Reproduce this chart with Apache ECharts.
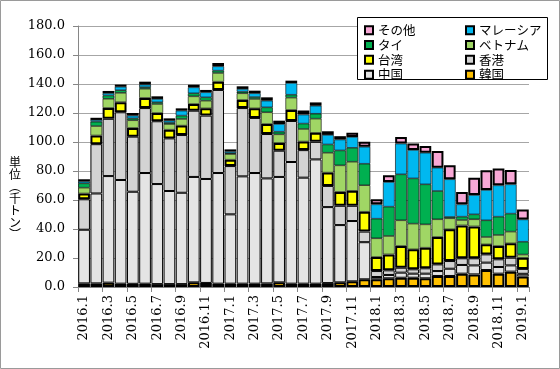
<!DOCTYPE html>
<html>
<head>
<meta charset="utf-8">
<script src="https://cdn.jsdelivr.net/npm/echarts@6/dist/echarts.min.js"></script>
<style>html,body{margin:0;padding:0;background:#fff}#c{width:560px;height:369px}</style>
</head>
<body>
<div id="c"></div>
<script>
var categories = ['2016.1','2016.2','2016.3','2016.4','2016.5','2016.6','2016.7','2016.8','2016.9','2016.10','2016.11','2016.12',
 '2017.1','2017.2','2017.3','2017.4','2017.5','2017.6','2017.7','2017.8','2017.9','2017.10','2017.11','2017.12',
 '2018.1','2018.2','2018.3','2018.4','2018.5','2018.6','2018.7','2018.8','2018.9','2018.10','2018.11','2018.12','2019.1'];
var korea    = [2.5,2.5,3,2.3,2.2,2.3,2,2,2,3.2,2.8,2.3,2.3,2.3,2.3,2.5,3.2,2.3,2.3,2.3,2.7,3.2,3.9,5.3,5.3,6,6.4,6.4,6,7.6,7.6,9.2,8.7,11.7,9.2,10.6,7.3];
var china    = [37,62,73.5,71.5,63.5,76.3,69,64.2,63,72.7,71.7,76.3,47.8,74,76.3,72.4,72.7,83.9,73.1,85.7,52.4,39.5,41.6,25.6,1.6,2.3,3.5,2.8,3.2,3.4,5,6,6.2,5.1,4.6,4.3,1.8];
var hongkong = [21,34,39.5,46.7,38,44.8,43.3,36.3,39.8,45.7,43.7,57.3,33.3,47.1,38,30.6,18.1,28.3,19,12.1,14.6,13.3,10.5,7.3,4.1,3.2,3.4,3,3.7,4.6,5.3,4.6,4.9,5.7,5.3,5.3,3.4];
var taiwan   = [4,6,7.5,7,6,7,5.7,6,6.5,4.6,5,5.7,4.4,5.6,6.6,6.9,5.3,7.6,5.9,6.2,9.2,9.6,10.3,13.7,9.7,11,15,13.8,14.2,18.9,21.9,22.7,22,6.9,9.2,9.9,7.6];
var vietnam  = [4,6.5,6.3,6.4,5.3,6.3,6.2,3.9,4.6,5.3,5.3,6,3.9,4.6,6.5,8.1,6,8.5,8.7,9.8,13.7,18.3,20.1,18.3,12.9,12.7,17.7,17.7,16.1,12.2,7.6,3.7,4.9,5.1,7.6,8.1,2.3];
var thai     = [3,3,2.3,1.8,1.3,1.1,1.2,0.8,2.3,2.1,2.3,1.6,0.6,1.1,1.3,3.4,1.8,2,3.7,3.4,5.7,10.3,9.6,14.8,13.5,20.2,31.7,31.2,27.6,19.5,0.9,2.3,3.4,11.5,12.6,12.4,8.8];
var malaysia = [1.3,1.2,1.6,2.4,1.9,1.8,2.3,1.5,3.4,4.1,3.5,3,1.2,1.9,2.6,4.6,5.3,8.1,6.2,5.5,6.6,7.5,7.5,11.7,9.9,17,21.2,19.6,21.8,16.1,26,8.5,13.3,20.9,21.6,20.2,15.4];
var others   = [1.5,1.5,1.5,1.5,1.8,2,1.8,1.6,1.6,1.8,1.6,2.3,1.4,1.8,1.8,2.3,2.3,1.6,2.9,2.3,2.5,2.3,2.8,3.4,3.5,4.6,4.5,4.4,4.6,11.5,9.6,8.5,12,13.6,11.7,9.9,6.9];
var yTicks = [0,20,40,60,80,100,120,140,160,180];

var seriesDefs = [
  {name:'韓国', data:korea, color:'#ffc000', bw:2},
  {name:'中国', data:china, color:'#e4e4e4', bw:1},
  {name:'香港', data:hongkong, color:'#d3d3d3', bw:1},
  {name:'台湾', data:taiwan, color:'#ffff00', bw:2},
  {name:'ベトナム', data:vietnam, color:'#a0d665', bw:0.6},
  {name:'タイ', data:thai, color:'#00b050', bw:0.6},
  {name:'マレーシア', data:malaysia, color:'#00b8f0', bw:0.6},
  {name:'その他', data:others, color:'#f8a8d6', bw:2}
];
var serifFont = '"DejaVu Serif", "Liberation Serif", serif';
var jpFont = '"Noto Sans CJK JP", sans-serif';

var legendText = {fontFamily:jpFont, fontSize:12.5, color:'#000', lineHeight:12};
var chart = echarts.init(document.getElementById('c'), null, {renderer:'canvas'});
chart.setOption({
  animation:false,
  backgroundColor:'#ffffff',
  grid:{left:78, right:31, top:26, bottom:82, containLabel:false},
  xAxis:{
    type:'category', data:categories, boundaryGap:true,
    axisLine:{lineStyle:{color:'#868686', width:1}},
    axisTick:{show:true, interval:1, length:5, lineStyle:{color:'#868686'}},
    axisLabel:{interval:1, rotate:90, margin:8, color:'#000', fontFamily:serifFont, fontSize:13}
  },
  yAxis:{
    type:'value', min:0, max:180, interval:20,
    axisLine:{show:true, lineStyle:{color:'#868686', width:1}},
    axisTick:{show:true, length:5, inside:false, lineStyle:{color:'#868686'}},
    splitLine:{show:true, lineStyle:{color:'#a6a6a6', width:1}},
    axisLabel:{color:'#000', fontFamily:serifFont, fontSize:13, margin:13,
      formatter:function(v){return v.toFixed(1);}}
  },
  legend:[
    {orient:'vertical', left:359, top:19, icon:'rect', itemWidth:8, itemHeight:8, itemGap:2.3,
     textStyle:legendText, data:['その他','タイ','台湾','中国']},
    {orient:'vertical', left:460, top:19, icon:'rect', itemWidth:8, itemHeight:8, itemGap:2.3,
     textStyle:legendText, data:['マレーシア','ベトナム','香港','韓国']}
  ],
  graphic:[
    {type:'rect', shape:{x:0.5, y:0.5, width:559, height:368}, style:{fill:'none', stroke:'#9a9a9a', lineWidth:1}, z:-1},
    {type:'rect', shape:{x:357.5, y:17.5, width:190, height:62}, style:{fill:'#fff', stroke:'#000', lineWidth:1}, z:1},
    {type:'text', left:9, top:156, style:{text:'単\n位\n︵\n千\nト\nン\n︶', font:'12px "Noto Sans CJK JP"', fill:'#000', lineHeight:12, align:'center'}}
  ],
  series:seriesDefs.map(function(s){
    return {name:s.name, type:'bar', stack:'total', data:s.data, barCategoryGap:'4%',
      itemStyle:{color:s.color, borderColor:'#000', borderWidth:s.bw}, z:2};
  })
});
</script>
</body>
</html>
